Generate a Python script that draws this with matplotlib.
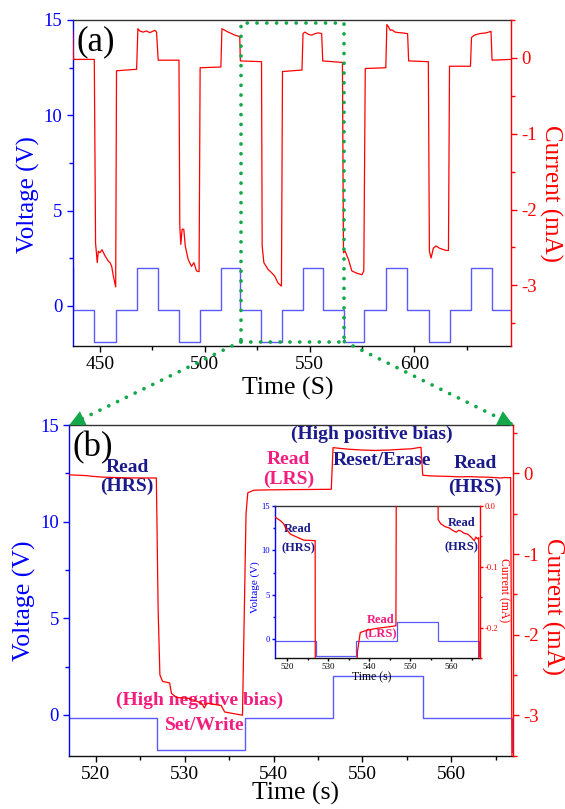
import matplotlib
matplotlib.use('Agg')
import matplotlib.pyplot as plt
from matplotlib.patches import Rectangle, ConnectionPatch
from matplotlib.ticker import MultipleLocator, FormatStrFormatter

plt.rcParams['font.family'] = ['Liberation Serif', 'DejaVu Serif']
plt.rcParams['axes.unicode_minus'] = False

BLUE = '#0000ff'
VBLUE = '#5a5aff'
RED = '#ff0000'
NAVY = '#1a1a8c'
PINK = '#f21d7e'
GREEN = '#14a84b'

# ---- (a) full sequence: voltage steps (steps-post) ----
top_v_t = [437.0, 437.3, 447.3, 457.5, 467.8, 477.6, 487.7, 497.7, 507.8, 516.8, 526.9,
           536.8, 546.7, 556.5, 566.4, 576.2, 586.6, 596.6, 607.0, 616.8, 627.0, 637.0, 646.0]
top_v = [2.0, -0.2, -1.9, -0.2, 2.0, -0.2, -1.9, -0.2, 2.0, -0.2, -1.9,
         -0.2, 2.0, -0.2, -1.9, -0.2, 2.0, -0.2, -1.9, -0.2, 2.0, -0.2, -0.2]

# ---- (a) current ----
top_i_t = [437.0, 437.4, 447.3, 447.9, 448.7, 449.2, 450.0, 451.0, 452.4, 454.0, 454.8, 455.6, 456.4, 457.5,
           457.9, 467.5,
           468.1, 469.0, 470.6, 472.2, 473.8, 476.2, 477.0,
           477.8, 487.7,
           488.1, 488.6, 489.2, 490.0, 490.7, 492.1, 493.7, 494.8, 496.1, 497.3,
           497.8, 507.7,
           508.2, 509.6, 511.2, 512.8, 514.4, 516.7,
           517.0, 527.1,
           527.4, 528.2, 530.2, 531.8, 533.4, 535.0, 536.6,
           537.1, 546.4,
           546.9, 547.8, 549.5, 551.0, 552.6, 554.2, 555.8,
           556.3, 565.7,
           566.2, 567.0, 568.6, 570.2, 572.6, 575.0, 575.9,
           576.6, 586.4,
           586.9, 587.7, 588.5, 589.3, 590.9, 592.5, 594.1, 596.8,
           597.3, 606.7,
           607.2, 608.0, 609.1, 610.4, 612.0, 615.2, 616.3,
           616.8, 626.8,
           627.3, 628.7, 631.1, 634.3, 636.6,
           637.1, 646.0]
top_i = [0.36, -0.02, -0.02, -2.44, -2.70, -2.55, -2.57, -2.53, -2.61, -2.68, -2.70, -2.75, -2.88, -3.02,
         -0.17, -0.15,
         0.385, 0.355, 0.34, 0.355, 0.333, 0.364, 0.34,
         -0.03, -0.03,
         -2.22, -2.46, -2.26, -2.26, -2.48, -2.66, -2.75, -2.70, -2.81, -2.82,
         -0.13, -0.12,
         0.385, 0.364, 0.34, 0.32, 0.30, 0.28,
         -0.04, -0.05,
         -2.48, -2.70, -2.79, -2.83, -2.88, -2.97, -3.01,
         -0.18, -0.16,
         0.32, 0.34, 0.31, 0.30, 0.32, 0.33, 0.32,
         -0.04, -0.06,
         -2.57, -2.55, -2.66, -2.81, -2.84, -2.86, -2.81,
         -0.14, -0.13,
         0.44, 0.41, 0.364, 0.37, 0.34, 0.333, 0.33, 0.32,
         -0.04, -0.05,
         -2.55, -2.64, -2.51, -2.48, -2.51, -2.54, -2.54,
         -0.11, -0.11,
         0.27, 0.30, 0.32, 0.33, 0.35,
         -0.03, -0.02]

# ---- (b) one cycle: voltage steps ----
bot_v_t = [517.0, 526.9, 536.8, 546.7, 556.8, 566.8, 567.0]
bot_v = [-0.17, -1.83, -0.17, 1.99, -0.17, -1.9, -1.9]

# ---- (b) current ----
bot_i_t = [517.0, 518.3, 519.1, 519.5, 520.7, 522.3, 524.0, 526.8,
           527.0, 527.2, 527.5, 528.3, 528.5, 529.1, 530.4, 531.9, 532.2, 532.5, 534.1, 534.5, 536.5,
           536.9, 537.1, 537.8, 539.5, 542.0, 544.4, 546.5,
           546.7, 547.5, 548.5, 550.0, 551.5, 553.0, 554.5, 555.5, 556.6,
           556.8, 557.4, 558.5, 559.5, 560.3, 561.2, 561.8, 562.3, 563.2, 564.0, 564.8, 565.6, 566.0,
           566.4, 566.7,
           566.85]
bot_i = [-0.018, -0.024, -0.029, -0.035, -0.046, -0.051, -0.056, -0.057,
         -1.68, -2.50, -2.58, -2.60, -2.73, -2.78, -2.79, -2.85, -2.91, -2.85, -2.88, -2.96, -3.00,
         -0.50, -0.24, -0.208, -0.204, -0.201, -0.199, -0.197,
         0.32, 0.31, 0.30, 0.29, 0.285, 0.29, 0.30, 0.305, 0.325,
         -0.022, -0.029, -0.034, -0.036, -0.040, -0.043, -0.040, -0.041, -0.045, -0.046, -0.051, -0.057, -0.051,
         -0.054, -0.052,
         -3.6]

fig = plt.figure(figsize=(5.65, 8.09), dpi=100)


def style_pair(ax, ax2, fs_x, fs_y, major, minor):
    ax.spines['left'].set_color(BLUE)
    ax.spines['right'].set_visible(False)
    ax.spines['top'].set_color('#333333')
    ax.spines['bottom'].set_color('#111111')
    for s in ['left', 'top', 'bottom']:
        ax2.spines[s].set_visible(False)
    ax2.spines['right'].set_color(RED)
    for a in (ax, ax2):
        for s in a.spines.values():
            s.set_linewidth(1.0)
    ax.tick_params(axis='x', which='both', direction='out', colors='black', labelsize=fs_x, width=1)
    ax.tick_params(axis='y', which='both', direction='out', colors=BLUE, labelsize=fs_y, width=1)
    ax2.tick_params(axis='y', which='both', direction='out', colors=RED, labelsize=fs_y, width=1)
    for a in (ax, ax2):
        a.tick_params(which='major', length=major)
        a.tick_params(which='minor', length=minor)


# ================= (a) =================
ax_a = fig.add_axes([0.1287, 0.5723, 0.7752, 0.4030])
ax_a2 = ax_a.twinx()
ax_a.plot(top_v_t, top_v, drawstyle='steps-post', color=VBLUE, lw=1.0)
ax_a2.plot(top_i_t, top_i, color=RED, lw=0.9)
ax_a.set_xlim(437, 646)
ax_a.set_ylim(-2.1, 15)
ax_a2.set_ylim(-3.8, 0.5)
ax_a.xaxis.set_major_locator(MultipleLocator(50))
ax_a.xaxis.set_minor_locator(MultipleLocator(25))
ax_a.yaxis.set_major_locator(MultipleLocator(5))
ax_a.yaxis.set_minor_locator(MultipleLocator(2.5))
ax_a2.yaxis.set_major_locator(MultipleLocator(1))
ax_a2.yaxis.set_minor_locator(MultipleLocator(0.5))
style_pair(ax_a, ax_a2, 14, 13.5, 4, 3)

ax_a.text(-0.102, 0.466, 'Voltage (V)', transform=ax_a.transAxes, rotation=90,
          ha='center', va='center', color=BLUE, fontsize=18)
ax_a.text(1.090, 0.469, 'Current (mA)', transform=ax_a.transAxes, rotation=270,
          ha='center', va='center', color=RED, fontsize=18)
ax_a.text(0.4916, -0.129, 'Time (S)', transform=ax_a.transAxes,
          ha='center', va='center', fontsize=18.5)
ax_a.text(448.1, 13.84, '(a)', ha='center', va='center', fontsize=25)

# ================= (b) =================
ax_b = fig.add_axes([0.1227, 0.0661, 0.7858, 0.4085])
ax_b2 = ax_b.twinx()
ax_b.plot(bot_v_t, bot_v, drawstyle='steps-post', color=VBLUE, lw=1.0)
ax_b2.plot(bot_i_t, bot_i, color=RED, lw=0.9)
ax_b.set_xlim(517, 567)
ax_b.set_ylim(-2.1, 15)
ax_b2.set_ylim(-3.5, 0.6)
ax_b.xaxis.set_major_locator(MultipleLocator(10))
ax_b.xaxis.set_minor_locator(MultipleLocator(5))
ax_b.yaxis.set_major_locator(MultipleLocator(5))
ax_b.yaxis.set_minor_locator(MultipleLocator(2.5))
ax_b2.yaxis.set_major_locator(MultipleLocator(1))
ax_b2.yaxis.set_minor_locator(MultipleLocator(0.5))
style_pair(ax_b, ax_b2, 14, 13.5, 4, 3)

ax_b.text(-0.102, 0.467, 'Voltage (V)', transform=ax_b.transAxes, rotation=90,
          ha='center', va='center', color=BLUE, fontsize=18.5)
ax_b.text(1.088, 0.45, 'Current (mA)', transform=ax_b.transAxes, rotation=270,
          ha='center', va='center', color=RED, fontsize=18)
ax_b.text(0.51, -0.116, 'Time (s)', transform=ax_b.transAxes,
          ha='center', va='center', fontsize=18.5)
ax_b.text(519.6, 13.84, '(b)', ha='center', va='center', fontsize=25)

b_labels = [
    ('Read', 523.5, 12.8, NAVY), ('(HRS)', 523.5, 11.83, NAVY),
    ('Read', 541.7, 13.2, PINK), ('(LRS)', 541.7, 12.19, PINK),
    ('(High positive bias)', 551.1, 14.51, NAVY),
    ('Reset/Erase', 552.2, 13.17, NAVY),
    ('Read', 562.7, 13.01, NAVY), ('(HRS)', 562.7, 11.8, NAVY),
    ('(High negative bias)', 531.7, 0.73, PINK),
    ('Set/Write', 532.2, -0.56, PINK),
]
for txt, x, y, c in b_labels:
    ax_b.text(x, y, txt, ha='center', va='center', color=c, fontsize=14, fontweight='bold')

# ================= inset =================
ax_in = fig.add_axes([0.4867, 0.1866, 0.3628, 0.1879])
ax_in.set_facecolor('white')
ax_in2 = ax_in.twinx()
ax_in.plot(bot_v_t, bot_v, drawstyle='steps-post', color=VBLUE, lw=0.9)
ax_in2.plot(bot_i_t, bot_i, color=RED, lw=0.9)
ax_in.set_xlim(517, 567)
ax_in.set_ylim(-2.1, 15)
ax_in2.set_ylim(-0.25, 0.0)
ax_in.xaxis.set_major_locator(MultipleLocator(10))
ax_in.xaxis.set_minor_locator(MultipleLocator(5))
ax_in.yaxis.set_major_locator(MultipleLocator(5))
ax_in.yaxis.set_minor_locator(MultipleLocator(2.5))
ax_in2.yaxis.set_major_locator(MultipleLocator(0.1))
ax_in2.yaxis.set_minor_locator(MultipleLocator(0.05))
ax_in2.yaxis.set_major_formatter(FormatStrFormatter('%.1f'))
style_pair(ax_in, ax_in2, 6.5, 6.2, 2.5, 1.5)
for a in (ax_in, ax_in2):
    a.tick_params(pad=1.2)

ax_in.text(-0.098, 0.467, 'Voltage (V)', transform=ax_in.transAxes, rotation=90,
           ha='center', va='center', color=BLUE, fontsize=8)
ax_in.text(1.118, 0.447, 'Current (mA)', transform=ax_in.transAxes, rotation=270,
           ha='center', va='center', color=RED, fontsize=8.5)
ax_in.text(0.472, -0.125, 'Time (s)', transform=ax_in.transAxes,
           ha='center', va='center', fontsize=8.5)

in_labels = [
    ('Read', 522.6, 12.4, NAVY), ('(HRS)', 522.6, 10.26, NAVY),
    ('Read', 562.5, 13.08, NAVY), ('(HRS)', 562.5, 10.32, NAVY),
    ('Read', 542.7, 2.14, PINK), ('(LRS)', 542.7, 0.62, PINK),
]
for txt, x, y, c in in_labels:
    ax_in.text(x, y, txt, ha='center', va='center', color=c, fontsize=9, fontweight='bold')

# ================= zoom box and connectors =================
dots = (0, (0.01, 2.6))
box = Rectangle((517.2, -1.87), 566.6 - 517.2, 14.86 + 1.87, transform=ax_a.transData,
                fill=False, edgecolor=GREEN, lw=2.7, linestyle=dots, capstyle='round')
fig.add_artist(box)

for xa, xb in [(517.2, 0.0), (566.6, 1.0)]:
    line = ConnectionPatch(xyA=(xa, -1.87), coordsA=ax_a.transData,
                           xyB=(xb, 1.0), coordsB=ax_b.transAxes,
                           arrowstyle='-', color=GREEN, lw=2.7, linestyle=dots,
                           capstyle='round')
    fig.add_artist(line)
    head = ConnectionPatch(xyA=(xa, -1.87), coordsA=ax_a.transData,
                           xyB=(xb, 1.0), coordsB=ax_b.transAxes,
                           arrowstyle='-|>,head_length=0.8,head_width=0.4',
                           mutation_scale=14, color=GREEN, lw=0)
    fig.add_artist(head)

fig.savefig('out.png', dpi=100)
